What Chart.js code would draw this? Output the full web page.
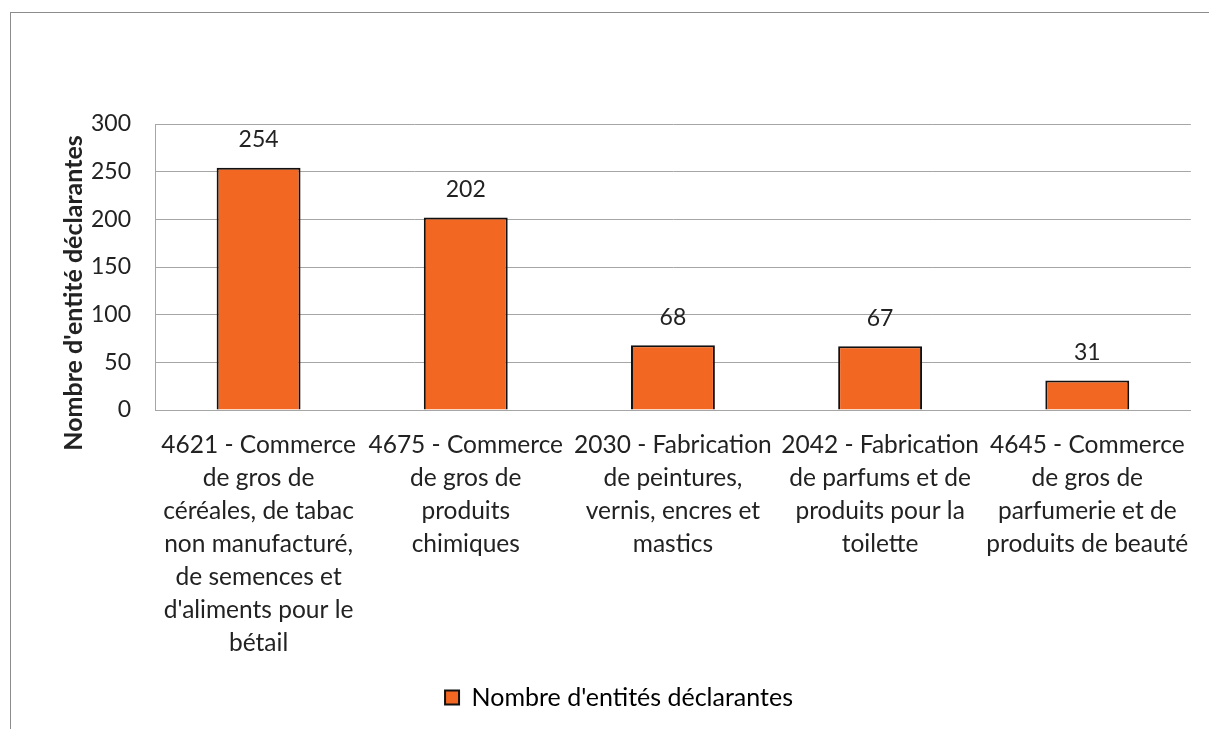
<!DOCTYPE html>
<html>
<head>
<meta charset="utf-8">
<script src="https://cdn.jsdelivr.net/npm/chart.js@4.4.1/dist/chart.umd.min.js"></script>
<style>
  html, body { margin:0; padding:0; background:#fff; overflow:hidden; width:1209px; height:729px; }
  #frame { position:absolute; left:10px; top:12px; width:1400px; height:900px; border:1px solid #8c8c8c; box-sizing:border-box; }
  #c { position:absolute; left:0; top:0; }
</style>
</head>
<body>
<div id="frame"></div>
<canvas id="c" width="1209" height="729"></canvas>
<script>
const categories = [
  ["4621 - Commerce","de gros de","céréales, de tabac","non manufacturé,","de semences et","d'aliments pour le","bétail"],
  ["4675 - Commerce","de gros de","produits","chimiques"],
  ["2030 - Fabrication","de peintures,","vernis, encres et","mastics"],
  ["2042 - Fabrication","de parfums et de","produits pour la","toilette"],
  ["4645 - Commerce","de gros de","parfumerie et de","produits de beauté"]
];
const seriesName = "Nombre d'entités déclarantes";
const values = [254, 202, 68, 67, 31];
const yTicks = [0, 50, 100, 150, 200, 250, 300];
const yTitle = "Nombre d'entité déclarantes";

const FONT = "Lato, 'Open Sans', sans-serif";
const TEXT = '#222';

const valueLabels = {
  id: 'valueLabels',
  afterDatasetsDraw(chart) {
    const ctx = chart.ctx;
    const meta = chart.getDatasetMeta(0);
    ctx.save();
    ctx.font = '23px ' + FONT;
    ctx.fillStyle = TEXT;
    ctx.textAlign = 'center';
    ctx.textBaseline = 'middle';
    meta.data.forEach((bar, i) => {
      ctx.fillText(String(chart.data.datasets[0].data[i]), bar.x, bar.y - 28);
    });
    ctx.restore();
  }
};

// y-axis title, drawn beside the axis and shifted down like the original
const yTitlePlugin = {
  id: 'yTitlePlugin',
  afterDraw(chart) {
    const ctx = chart.ctx;
    const area = chart.chartArea;
    const y = chart.scales.y;
    ctx.save();
    ctx.translate(y.left + 28, (area.top + area.bottom) / 2 + 26);
    ctx.rotate(-Math.PI / 2);
    ctx.font = 'bold 25px ' + FONT;
    ctx.fillStyle = TEXT;
    ctx.textAlign = 'center';
    ctx.textBaseline = 'middle';
    ctx.fillText(yTitle, 0, 0);
    ctx.restore();
  }
};

new Chart(document.getElementById('c'), {
  type: 'bar',
  data: {
    labels: categories,
    datasets: [{
      label: seriesName,
      data: values,
      backgroundColor: '#F26722',
      borderColor: '#111',
      borderWidth: 2,
      barPercentage: 0.405,
      categoryPercentage: 1.0
    }]
  },
  options: {
    responsive: false,
    animation: false,
    devicePixelRatio: 1,
    layout: { padding: { top: 124, left: 46, right: 17, bottom: 9 } },
    plugins: {
      legend: {
        position: 'bottom',
        labels: {
          boxWidth: 14, boxHeight: 14, padding: 10,
          color: TEXT,
          font: { family: FONT, size: 25 },
          generateLabels(chart) {
            return [{ text: seriesName, fillStyle: '#F26722', strokeStyle: '#111', lineWidth: 2, datasetIndex: 0 }];
          }
        }
      },
      tooltip: { enabled: false }
    },
    scales: {
      x: {
        grid: { display: false, drawTicks: false },
        border: { display: true, color: '#a6a6a6', width: 1 },
        ticks: { color: TEXT, font: { family: FONT, size: 24.5, lineHeight: 33 / 24.5 }, padding: 19, maxRotation: 0, autoSkip: false },
        afterFit(scale) { scale.height = 265; }
      },
      y: {
        min: 0, max: 300,
        afterBuildTicks(scale) { scale.ticks = yTicks.map(v => ({ value: v })); },
        grid: { color: '#a6a6a6', drawTicks: false },
        border: { display: true, color: '#a6a6a6', width: 1 },
        ticks: { color: TEXT, font: { family: FONT, size: 23 }, padding: 24 },
        title: { display: false },
        afterFit(scale) { scale.width = 109; }
      }
    }
  },
  plugins: [valueLabels, yTitlePlugin]
});
</script>
</body>
</html>
